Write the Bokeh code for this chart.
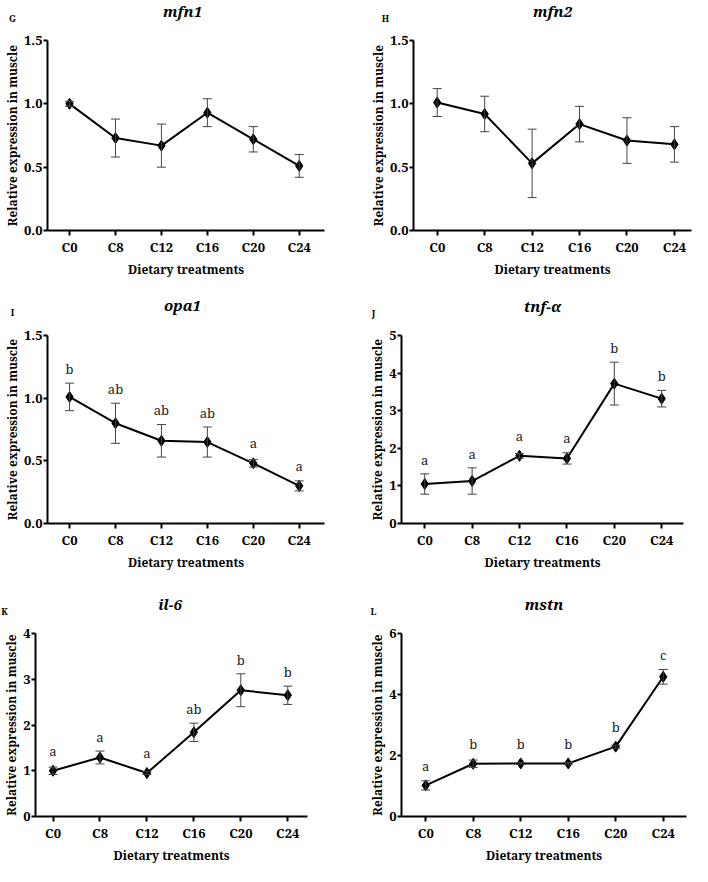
from bokeh.plotting import figure
from bokeh.models import (Range1d, FixedTicker, Whisker, TeeHead, ColumnDataSource,
                          NumeralTickFormatter)
from bokeh.layouts import column, row
from bokeh.embed import file_html
from bokeh.resources import INLINE
from bokeh.core.properties import value

# ---------------- data ----------------
categories = ["C0", "C8", "C12", "C16", "C20", "C24"]

mfn1_mean = [1.00, 0.73, 0.67, 0.93, 0.72, 0.51]
mfn1_sem = [0.02, 0.15, 0.17, 0.11, 0.10, 0.09]

mfn2_mean = [1.01, 0.92, 0.53, 0.84, 0.71, 0.68]
mfn2_sem = [0.11, 0.14, 0.27, 0.14, 0.18, 0.14]

opa1_mean = [1.01, 0.80, 0.66, 0.65, 0.48, 0.30]
opa1_sem = [0.11, 0.16, 0.13, 0.12, 0.03, 0.04]
opa1_sig = ["b", "ab", "ab", "ab", "a", "a"]

tnf_mean = [1.05, 1.13, 1.80, 1.73, 3.72, 3.32]
tnf_sem = [0.27, 0.35, 0.06, 0.15, 0.57, 0.22]
tnf_sig = ["a", "a", "a", "a", "b", "b"]

il6_mean = [1.00, 1.29, 0.95, 1.84, 2.76, 2.65]
il6_sem = [0.08, 0.14, 0.03, 0.20, 0.36, 0.20]
il6_sig = ["a", "a", "a", "ab", "b", "b"]

mstn_mean = [1.02, 1.73, 1.74, 1.74, 2.29, 4.58]
mstn_sem = [0.15, 0.12, 0.03, 0.03, 0.05, 0.24]
mstn_sig = ["a", "b", "b", "b", "b", "c"]

ticks_half = [0, 0.5, 1.0, 1.5]
ticks_5 = [0, 1, 2, 3, 4, 5]
ticks_4 = [0, 1, 2, 3, 4]
ticks_6 = [0, 2, 4, 6]

gene_titles = [["mfn1", "mfn2"], ["opa1", "tnf-\u03b1"], ["il-6", "mstn"]]
panel_letters = [["G", "H"], ["I", "J"], ["K", "L"]]

FONT = "Noto Serif"
ERR_COLOR = "#444444"

W1 = 326   # left column width
W2 = 366   # right column width


def panel(mean, sem, sig, yticks, yfmt, width, height,
          left, right, top, bottom, xr):
    ymax = yticks[-1]
    p = figure(width=width, height=height, x_range=Range1d(*xr),
               y_range=Range1d(0, ymax), output_backend="svg",
               toolbar_location=None, min_border_left=left,
               min_border_right=right, min_border_top=top,
               min_border_bottom=bottom)
    p.background_fill_color = "white"
    p.border_fill_color = "white"
    p.outline_line_color = None
    p.xgrid.visible = False
    p.ygrid.visible = False

    xs = list(range(len(categories)))

    for ax in (p.xaxis[0], p.yaxis[0]):
        ax.axis_line_width = 2
        ax.axis_line_color = "black"
        ax.major_tick_line_width = 2
        ax.major_tick_line_color = "black"
        ax.major_tick_in = 0
        ax.major_tick_out = 5
        ax.minor_tick_line_color = None
        ax.major_label_text_font = FONT
        ax.major_label_text_font_style = "bold"
        ax.major_label_text_font_size = "13px"
        ax.major_label_text_color = "black"
        ax.axis_label_text_font = FONT
        ax.axis_label_text_font_style = "bold"
        ax.axis_label_text_font_size = "12px"
        ax.axis_label_text_color = "black"

    p.xaxis.ticker = FixedTicker(ticks=xs)
    p.xaxis.major_label_overrides = {i: c for i, c in enumerate(categories)}
    p.xaxis.axis_label = "Dietary treatments"
    p.xaxis.major_label_standoff = 2
    p.xaxis.axis_label_standoff = 2

    p.yaxis.ticker = FixedTicker(ticks=yticks)
    p.yaxis.formatter = NumeralTickFormatter(format=yfmt)
    p.yaxis.axis_label = "Relative expression in muscle"
    p.yaxis.major_tick_out = 4
    p.yaxis.major_label_standoff = 1
    p.yaxis.axis_label_standoff = 0

    upper = [m + s for m, s in zip(mean, sem)]
    lower = [m - s for m, s in zip(mean, sem)]
    src = ColumnDataSource(dict(x=xs, mean=mean, upper=upper, lower=lower))

    w = Whisker(source=src, base="x", upper="upper", lower="lower",
                line_color=ERR_COLOR, line_width=1,
                upper_head=TeeHead(size=9, line_color=ERR_COLOR, line_width=1),
                lower_head=TeeHead(size=9, line_color=ERR_COLOR, line_width=1),
                level="glyph")
    p.add_layout(w)

    p.line("x", "mean", source=src, line_color="black", line_width=2)
    p.scatter("x", "mean", source=src, marker="diamond", size=11,
              fill_color="black", line_color="black")

    if sig is not None:
        frame_h = height - top - bottom
        ppu = frame_h / ymax
        base = [max(u, m + 6.0 / ppu) for u, m in zip(upper, mean)]
        tsrc = ColumnDataSource(dict(x=xs, y=base, t=sig))
        p.text("x", "y", text="t", source=tsrc, text_font=value(FONT),
               text_font_size="13px", text_align="center",
               text_baseline="alphabetic", y_offset=-14, text_color="#222222")
    return p


def header(row_idx, height, frame_specs):
    """frame_specs: (column x offset, frame left, frame right, body top border)"""
    total_w = W1 + W2
    h = figure(width=total_w, height=height, x_range=Range1d(0, total_w),
               y_range=Range1d(0, height), output_backend="svg",
               toolbar_location=None, x_axis_type=None, y_axis_type=None,
               min_border=0)
    h.outline_line_color = None
    h.xgrid.visible = False
    h.ygrid.visible = False
    tx, ty, lx, ly = [], [], [], []
    for (off, fl, fr, tb) in frame_specs:
        tx.append(off + (fl + fr) / 2.0)
        ty.append(30 - tb)
        lx.append(off + fl - 28)
        ly.append(22 - tb)
    h.text(tx, ty, text=gene_titles[row_idx], text_font=value(FONT),
           text_font_style="bold italic", text_font_size="15px",
           text_align="center", text_baseline="middle", text_color="black")
    h.text(lx, ly, text=panel_letters[row_idx], text_font=value(FONT),
           text_font_style="bold", text_font_size="9px",
           text_align="center", text_baseline="middle", text_color="black")
    return h


# ---- row 1 ----
H1, B1 = 32, 253
pG = panel(mfn1_mean, mfn1_sem, None, ticks_half, "0.0",
           W1, B1, 40, 2, 8, 55, (-0.48, 5.55))
pH = panel(mfn2_mean, mfn2_sem, None, ticks_half, "0.0",
           W2, B1, 87, 1, 8, 55, (-0.50, 5.36))
h1 = header(0, H1, [(0, 40, W1 - 2, 8), (W1, 87, W2 - 1, 8)])

# ---- row 2 ----
H2, B2 = 40, 257
pI = panel(opa1_mean, opa1_sem, opa1_sig, ticks_half, "0.0",
           W1, B2, 40, 2, 9, 59, (-0.48, 5.55))
pJ = panel(tnf_mean, tnf_sem, tnf_sig, ticks_5, "0",
           W2, B2, 75, 9, 10, 59, (-0.49, 5.46))
h2 = header(1, H2, [(0, 40, W1 - 2, 9), (W1, 75, W2 - 9, 10)])

# ---- row 3 ----
H3, B3 = 42, 242
pK = panel(il6_mean, il6_sem, il6_sig, ticks_4, "0",
           W1, B3, 32, 19, 9, 43, (-0.373, 5.42))
pL = panel(mstn_mean, mstn_sem, mstn_sig, ticks_6, "0",
           W2, B3, 75, 6, 9, 43, (-0.51, 5.49))
h3 = header(2, H3, [(0, 32, W1 - 19, 9), (W1, 75, W2 - 6, 9)])

layout = column(h1, row(pG, pH), h2, row(pI, pJ), h3, row(pK, pL))

open("out.html", "w").write(file_html(layout, INLINE))
